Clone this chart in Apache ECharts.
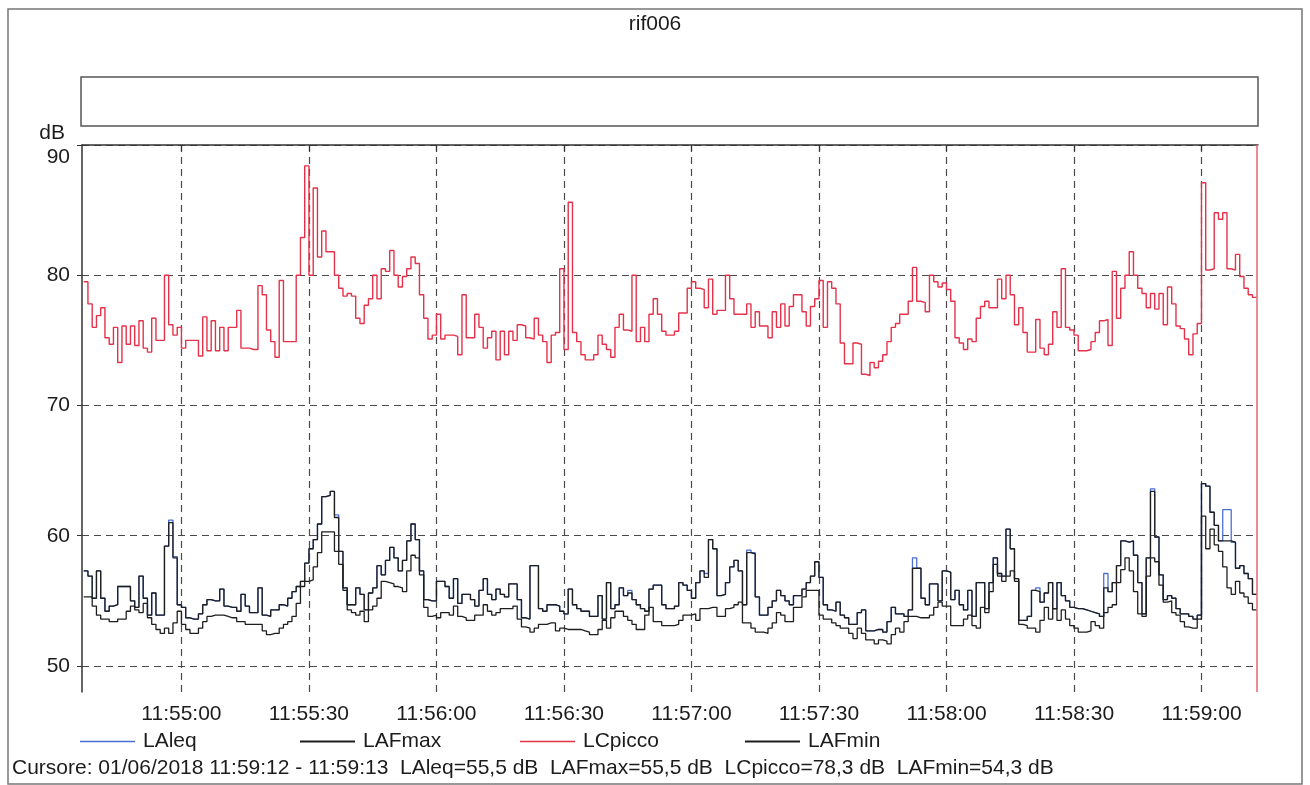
<!DOCTYPE html>
<html>
<head>
<meta charset="utf-8">
<title>rif006</title>
<script src="https://cdn.jsdelivr.net/npm/echarts@6.0.0/dist/echarts.min.js"></script>
<style>
  html, body { margin: 0; padding: 0; background: #ffffff; }
  #chart { width: 1310px; height: 785px; }
</style>
</head>
<body>
<div id="chart"></div>
<script>
// One sample per second, first sample at this time of day.
const firstSample = '11:54:37';
const lastSampleEnd = '11:59:13';
const cursorTime = '11:59:13';

const xTickLabels = ['11:55:00', '11:55:30', '11:56:00', '11:56:30', '11:57:00',
                     '11:57:30', '11:58:00', '11:58:30', '11:59:00'];
const yTickValues = [50, 60, 70, 80, 90];

const seriesNames = ['LAleq', 'LAFmax', 'LCpicco', 'LAFmin'];

// dB values, 1 s each
const LAleq = [
  57.3, 56.9, 55.2, 57.3, 55.2, 54.2, 54.6, 54.7, 56.1, 56.1,
  56.1, 55.0, 54.5, 56.9, 55.2, 53.9, 55.6, 53.9, 53.9, 59.2,
  61.2, 58.4, 54.7, 54.5, 53.7, 53.6, 53.6, 54.0, 54.7, 55.1,
  55.0, 55.0, 55.9, 54.6, 54.5, 54.5, 54.2, 55.5, 54.6, 54.1,
  54.1, 56.0, 53.9, 53.8, 54.3, 54.3, 54.7, 54.6, 55.2, 55.7,
  56.1, 56.5, 57.9, 59.0, 59.7, 60.9, 63.0, 63.1, 63.4, 61.6,
  58.8, 56.0, 54.7, 54.7, 56.0, 55.5, 54.3, 55.6, 56.0, 57.7,
  57.0, 58.1, 59.1, 58.3, 57.3, 58.1, 59.6, 60.9, 59.7, 57.3,
  55.1, 55.0, 55.0, 56.5, 56.5, 56.1, 55.2, 56.7, 54.8, 55.5,
  55.5, 55.1, 54.6, 55.8, 56.7, 55.5, 55.1, 55.9, 55.5, 55.3,
  56.3, 56.3, 55.1, 53.7, 53.6, 57.7, 57.7, 54.4, 54.2, 54.7,
  54.7, 54.6, 54.2, 54.0, 55.9, 54.7, 54.4, 54.2, 54.2, 53.8,
  53.8, 55.4, 53.6, 56.4, 54.4, 54.7, 56.0, 55.4, 55.8, 55.1,
  54.7, 54.4, 54.2, 55.9, 56.2, 56.2, 54.7, 54.4, 54.4, 54.6,
  56.4, 56.2, 55.8, 55.2, 56.4, 57.3, 57.1, 59.7, 59.0, 55.4,
  55.5, 56.4, 57.6, 58.1, 57.3, 54.7, 58.9, 58.7, 55.3, 53.9,
  53.9, 54.5, 55.0, 55.8, 55.4, 55.0, 54.7, 55.4, 55.4, 55.9,
  56.4, 56.9, 58.0, 56.8, 54.7, 54.3, 54.2, 54.9, 53.9, 53.7,
  53.2, 53.2, 54.1, 54.3, 52.7, 52.7, 52.8, 52.8, 52.6, 53.4,
  54.5, 54.0, 54.0, 53.8, 54.3, 58.3, 57.5, 55.2, 54.7, 56.3,
  56.3, 55.0, 57.3, 57.2, 55.1, 55.8, 54.7, 54.3, 55.8, 53.8,
  56.4, 56.4, 54.4, 56.4, 58.3, 57.1, 56.9, 60.5, 59.0, 56.7,
  53.5, 53.5, 53.8, 55.8, 56.0, 54.9, 55.6, 56.4, 54.4, 56.4,
  55.4, 55.0, 54.5, 54.4, 54.4, 54.3, 54.2, 54.1, 54.0, 53.8,
  57.1, 55.7, 56.4, 57.7, 59.6, 59.5, 59.6, 58.5, 56.4, 54.0,
  58.3, 63.6, 59.9, 57.0, 55.1, 55.4, 55.2, 54.4, 54.0, 54.0,
  53.8, 53.6, 53.9, 64.0, 63.8, 61.8, 60.8, 59.6, 62.0, 62.0,
  59.5, 57.5, 57.7, 57.1, 56.7, 55.5
];

const LAFmax = [
  57.3, 56.9, 55.2, 57.3, 55.2, 54.2, 54.6, 54.7, 56.1, 56.1,
  56.1, 55.0, 54.5, 56.9, 55.2, 53.9, 55.6, 53.9, 53.9, 59.2,
  61.0, 58.3, 54.7, 54.5, 53.7, 53.6, 53.6, 54.0, 54.7, 55.1,
  55.0, 55.0, 55.9, 54.6, 54.5, 54.5, 54.2, 55.5, 54.6, 54.1,
  54.1, 56.0, 53.9, 53.8, 54.3, 54.3, 54.7, 54.6, 55.2, 55.7,
  56.1, 56.5, 57.9, 59.0, 59.7, 60.9, 63.0, 63.1, 63.4, 61.4,
  58.8, 56.0, 54.7, 54.7, 56.0, 55.5, 54.3, 55.6, 56.0, 57.7,
  57.0, 58.1, 59.1, 58.3, 57.3, 58.1, 59.6, 60.9, 59.7, 57.3,
  55.1, 55.0, 55.0, 56.5, 56.5, 56.1, 55.2, 56.7, 54.8, 55.5,
  55.5, 55.1, 54.6, 55.8, 56.7, 55.5, 55.1, 55.9, 55.5, 55.3,
  56.3, 56.3, 55.1, 53.7, 53.6, 57.7, 57.7, 54.4, 54.2, 54.7,
  54.7, 54.6, 54.2, 54.0, 55.9, 54.7, 54.4, 54.2, 54.2, 53.8,
  53.8, 55.4, 53.6, 56.4, 54.4, 54.7, 56.0, 55.4, 55.6, 55.1,
  54.7, 54.4, 54.2, 55.9, 56.2, 56.2, 54.7, 54.4, 54.4, 54.6,
  56.4, 56.2, 55.8, 55.2, 56.4, 57.3, 56.8, 59.7, 59.0, 55.4,
  55.5, 56.4, 57.6, 58.1, 57.3, 54.7, 58.7, 58.6, 55.3, 53.9,
  53.9, 54.5, 55.0, 55.8, 55.4, 55.0, 54.7, 55.4, 55.4, 55.9,
  56.4, 56.9, 58.0, 56.8, 54.7, 54.3, 54.2, 54.9, 53.9, 53.7,
  53.2, 53.2, 54.1, 54.3, 52.7, 52.7, 52.8, 52.8, 52.6, 53.4,
  54.5, 54.0, 54.0, 53.8, 54.3, 57.5, 57.5, 55.2, 54.7, 56.3,
  56.3, 55.0, 57.3, 57.2, 55.1, 55.8, 54.7, 54.3, 55.8, 53.8,
  56.4, 56.4, 54.4, 56.4, 58.3, 57.1, 56.9, 60.5, 59.0, 56.7,
  53.5, 53.5, 53.8, 55.8, 55.7, 54.9, 55.6, 56.4, 54.4, 56.4,
  55.4, 55.0, 54.5, 54.4, 54.4, 54.3, 54.2, 54.1, 54.0, 53.8,
  56.0, 55.7, 56.4, 57.7, 59.6, 59.5, 59.6, 58.5, 56.4, 54.0,
  58.3, 63.4, 59.9, 57.0, 55.1, 55.4, 55.2, 54.4, 54.0, 54.0,
  53.8, 53.6, 53.9, 64.0, 63.8, 61.8, 60.8, 59.6, 59.6, 59.6,
  59.5, 57.5, 57.7, 57.1, 56.7, 55.5
];

const LCpicco = [
  79.5, 77.8, 76.0, 76.9, 77.5, 75.2, 74.7, 76.0, 73.3, 76.1,
  74.7, 76.1, 74.6, 76.5, 74.4, 74.1, 76.7, 75.0, 75.0, 80.0,
  76.2, 75.4, 76.0, 74.4, 75.0, 75.0, 75.0, 73.8, 76.8, 74.2,
  76.5, 74.2, 76.0, 74.2, 76.0, 76.0, 77.3, 74.4, 74.4, 74.3,
  74.3, 79.2, 78.5, 75.8, 74.9, 73.7, 79.6, 74.9, 74.9, 74.9,
  80.0, 82.9, 88.4, 80.0, 86.7, 81.4, 83.4, 81.8, 81.8, 80.0,
  79.0, 78.4, 78.6, 78.4, 76.7, 76.3, 77.7, 78.2, 80.0, 78.2,
  80.5, 80.3, 81.9, 80.0, 79.1, 79.9, 80.5, 81.4, 80.9, 78.5,
  76.7, 75.1, 75.4, 77.0, 75.1, 75.4, 75.4, 75.3, 73.9, 78.5,
  75.2, 75.2, 77.0, 76.0, 74.4, 75.2, 75.7, 73.5, 75.7, 73.9,
  75.7, 75.0, 76.2, 76.1, 75.2, 75.1, 76.7, 75.4, 74.9, 73.3,
  75.4, 75.6, 80.5, 74.3, 85.6, 75.6, 74.9, 73.9, 73.5, 73.5,
  73.9, 75.4, 74.7, 74.3, 73.7, 76.0, 77.0, 75.8, 75.7, 80.0,
  74.9, 76.0, 74.9, 77.0, 78.2, 77.0, 75.7, 75.4, 75.4, 75.7,
  77.1, 77.1, 79.0, 79.5, 79.0, 78.9, 77.5, 79.7, 77.0, 77.3,
  77.3, 80.0, 78.2, 77.0, 77.0, 77.0, 77.8, 76.0, 77.2, 76.1,
  76.1, 75.2, 77.2, 76.0, 77.8, 76.1, 77.6, 78.5, 78.5, 77.2,
  76.1, 77.6, 78.2, 79.6, 76.0, 79.5, 79.0, 77.8, 74.8, 73.2,
  73.2, 74.8, 74.7, 72.4, 72.3, 73.3, 72.9, 73.4, 73.9, 74.9,
  76.0, 76.3, 77.0, 77.0, 78.0, 80.6, 78.0, 77.9, 77.2, 80.0,
  79.5, 79.1, 79.4, 78.9, 78.0, 75.2, 74.8, 74.3, 75.1, 74.9,
  76.7, 77.6, 78.0, 77.5, 77.5, 79.7, 78.2, 80.0, 78.5, 76.2,
  77.5, 75.6, 74.1, 74.1, 76.6, 74.4, 73.9, 74.7, 77.2, 76.0,
  80.5, 76.0, 75.8, 75.4, 74.2, 74.2, 74.3, 74.9, 75.6, 76.5,
  76.6, 74.6, 80.3, 76.7, 79.0, 80.0, 81.8, 80.0, 79.0, 78.6,
  77.5, 78.6, 77.4, 78.6, 76.2, 79.1, 77.8, 76.1, 75.9, 75.1,
  73.9, 75.5, 76.3, 87.1, 80.4, 80.5, 84.8, 84.3, 84.8, 80.5,
  80.4, 81.6, 79.9, 79.0, 78.5, 78.3
];

const LAFmin = [
  55.3, 55.3, 54.6, 53.9, 53.6, 53.6, 53.4, 53.4, 53.6, 53.6,
  54.2, 54.6, 54.3, 54.1, 54.8, 53.7, 53.2, 52.8, 52.5, 52.9,
  52.5, 53.3, 54.2, 53.2, 52.8, 52.5, 52.5, 52.9, 53.4, 53.8,
  53.9, 53.9, 53.9, 53.8, 53.7, 53.7, 53.4, 53.4, 53.2, 53.2,
  53.2, 53.2, 52.7, 52.4, 52.5, 52.5, 52.9, 53.2, 53.4, 53.8,
  54.8, 56.1, 56.5, 56.6, 57.6, 58.7, 60.3, 60.3, 60.3, 58.8,
  57.8, 55.8, 54.3, 54.1, 53.9, 54.2, 53.4, 54.3, 54.6, 55.2,
  56.5, 56.4, 56.3, 56.1, 56.0, 55.7, 57.3, 58.5, 58.3, 57.0,
  54.5, 53.8, 53.9, 53.7, 54.1, 54.1, 53.9, 54.6, 53.8, 53.7,
  53.5, 53.5, 53.9, 53.9, 54.7, 54.2, 53.9, 54.1, 54.4, 54.4,
  54.4, 54.6, 53.6, 53.0, 52.9, 52.6, 52.9, 53.2, 53.2, 53.3,
  53.3, 52.7, 52.9, 52.8, 52.8, 52.8, 52.8, 52.7, 52.6, 52.4,
  52.4, 52.8, 53.5, 52.9, 53.7, 54.2, 54.2, 53.8, 53.5, 53.2,
  52.8, 52.8, 53.9, 54.5, 53.4, 53.4, 53.1, 53.1, 53.1, 53.2,
  53.5, 53.9, 53.9, 54.0, 53.5, 54.4, 54.4, 54.5, 54.5, 53.8,
  53.8, 54.4, 54.5, 54.7, 54.9, 53.3, 53.3, 52.9, 52.6, 52.6,
  52.5, 52.9, 53.3, 54.1, 53.9, 53.4, 53.4, 54.5, 54.5, 55.3,
  55.8, 55.8, 55.8, 53.9, 53.6, 53.6, 53.3, 53.1, 52.9, 52.9,
  52.5, 52.1, 52.9, 52.5, 52.0, 52.0, 51.7, 52.0, 51.9, 51.7,
  52.4, 52.9, 52.6, 53.4, 53.8, 53.8, 53.7, 53.7, 53.7, 53.9,
  54.5, 54.9, 54.6, 54.6, 53.1, 53.1, 53.1, 53.6, 53.9, 53.1,
  52.9, 54.5, 54.1, 55.7, 57.8, 56.9, 56.5, 56.9, 57.3, 56.5,
  53.2, 53.1, 52.9, 52.9, 52.6, 53.5, 54.5, 53.6, 54.4, 53.5,
  54.3, 53.6, 53.1, 52.9, 52.6, 52.6, 52.7, 53.4, 53.1, 52.9,
  54.1, 54.5, 54.7, 56.4, 57.4, 58.3, 57.3, 55.7, 54.0, 53.8,
  56.9, 58.3, 58.0, 56.2, 54.9, 55.0, 54.1, 53.9, 53.4, 53.0,
  52.9, 52.9, 53.6, 61.5, 59.0, 60.5, 59.3, 58.8, 57.6, 56.0,
  55.5, 56.5, 55.6, 55.3, 54.8, 54.3
];

const cursorText = 'Cursore: 01/06/2018 11:59:12 - 11:59:13  LAleq=55,5 dB  LAFmax=55,5 dB  LCpicco=78,3 dB  LAFmin=54,3 dB';

const seriesColors = { LAleq: '#4a6fd4', LAFmax: '#1e1e1e', LCpicco: '#e5324a', LAFmin: '#1e1e1e' };
const seriesValues = { LAleq: LAleq, LAFmax: LAFmax, LCpicco: LCpicco, LAFmin: LAFmin };

const FONT = '"Liberation Sans", Arial, sans-serif';
const FONT_SIZE = 21;
const TEXT = '#1c1c1c';

function toSec(hms) {
  const p = hms.split(':').map(Number);
  return p[0] * 3600 + p[1] * 60 + p[2];
}
function pad2(n) { return (n < 10 ? '0' : '') + n; }
function fmtTime(sec) {
  const s = Math.round(sec);
  return pad2(Math.floor(s / 3600)) + ':' + pad2(Math.floor((s % 3600) / 60)) + ':' + pad2(s % 60);
}

// Each sample holds its value for one second; repeat the last value to close its step.
function stepPoints(values) {
  const t0 = toSec(firstSample);
  const pts = values.map((v, i) => [t0 + i, v]);
  pts.push([t0 + values.length, values[values.length - 1]]);
  return pts;
}

const xTickSeconds = xTickLabels.map(toSec);
const xMin = toSec(firstSample) - 0.4;
const xMax = toSec(lastSampleEnd) + 0.3;
const yTop = yTickValues[yTickValues.length - 1];

const chart = echarts.init(document.getElementById('chart'), null, { renderer: 'canvas' });

const dashed = { color: '#4a4a4a', width: 1.2, type: [7, 5] };

const legendLefts = [80, 300, 520, 745];

chart.setOption({
  animation: false,
  backgroundColor: '#ffffff',
  title: {
    text: 'rif006',
    left: 'center',
    top: 9,
    textStyle: { fontFamily: FONT, fontSize: FONT_SIZE, fontWeight: 'normal', color: TEXT }
  },
  legend: seriesNames.map((name, i) => ({
    data: [name],
    left: legendLefts[i],
    top: 731,
    padding: 0,
    icon: 'rect',
    itemWidth: 55,
    itemHeight: name === 'LAFmax' || name === 'LAFmin' ? 2 : 1.5,
    itemGap: 0,
    selectedMode: false,
    textStyle: { fontFamily: FONT, fontSize: FONT_SIZE, color: TEXT, padding: [0, 0, 0, 3] }
  })),
  grid: { left: 82, right: 52, top: 145, bottom: 93 },
  xAxis: [
    {
      type: 'value',
      position: 'bottom',
      min: xMin,
      max: xMax,
      axisLine: { show: false },
      axisTick: { show: false, customValues: xTickSeconds },
      axisLabel: {
        customValues: xTickSeconds,
        formatter: v => fmtTime(v),
        margin: 12,
        fontFamily: FONT, fontSize: FONT_SIZE, color: TEXT
      },
      splitLine: { show: true, lineStyle: dashed }
    },
    {
      type: 'value',
      position: 'top',
      min: xMin,
      max: xMax,
      axisLine: { show: true, lineStyle: { color: '#333', width: 1.5 } },
      axisTick: { show: true, inside: true, length: 6, customValues: xTickSeconds, lineStyle: { color: '#333', width: 1.2 } },
      axisLabel: { show: false, customValues: xTickSeconds },
      splitLine: { show: false }
    }
  ],
  yAxis: {
    type: 'value',
    min: 48,
    max: 90,
    name: 'dB',
    nameLocation: 'end',
    nameGap: 1,
    nameTextStyle: { fontFamily: FONT, fontSize: FONT_SIZE, color: TEXT, align: 'right', padding: [0, 17, 0, 0] },
    axisLine: { show: true, lineStyle: { color: '#333', width: 1.5 } },
    axisTick: { show: true, length: 5, customValues: yTickValues, lineStyle: { color: '#333' } },
    axisLabel: {
      customValues: yTickValues,
      margin: 12,
      fontFamily: FONT, fontSize: FONT_SIZE, color: TEXT,
      // the top label sits just below the frame line
      formatter: v => (v === yTop ? '{top|' + v + '}' : String(v)),
      rich: { top: { fontFamily: FONT, fontSize: FONT_SIZE, color: TEXT, padding: [24, 0, 0, 0] } }
    },
    splitLine: { show: true, lineStyle: dashed }
  },
  series: seriesNames.map(name => ({
    name: name,
    type: 'line',
    step: 'end',
    showSymbol: false,
    symbol: 'none',
    color: seriesColors[name],
    lineStyle: { color: seriesColors[name], width: name === 'LCpicco' ? 1.4 : 1.3 },
    data: stepPoints(seriesValues[name]),
    markLine: name === 'LCpicco' ? {
      silent: true,
      symbol: 'none',
      label: { show: false },
      lineStyle: { color: '#e6707a', type: 'solid', width: 1.6 },
      data: [{ xAxis: toSec(cursorTime) }]
    } : undefined
  })),
  graphic: [
    { type: 'rect', shape: { x: 8, y: 9, width: 1294, height: 775 },
      style: { fill: 'none', stroke: '#777', lineWidth: 1.5 }, silent: true },
    { type: 'rect', shape: { x: 81, y: 77, width: 1177, height: 49 },
      style: { fill: 'none', stroke: '#555', lineWidth: 1.5 }, silent: true },
    { type: 'text', left: 12, top: 758,
      style: { text: cursorText, fontFamily: FONT, fontSize: FONT_SIZE, fill: TEXT }, silent: true }
  ]
});
</script>
</body>
</html>
